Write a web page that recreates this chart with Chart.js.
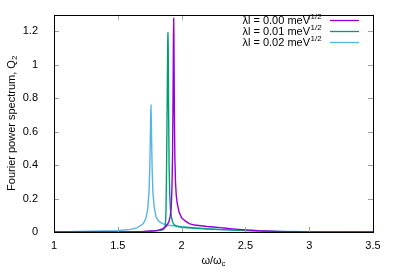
<!DOCTYPE html>
<html>
<head>
<meta charset="utf-8">
<script src="https://cdn.jsdelivr.net/npm/chart.js@4"></script>
<style>
  html, body { margin: 0; padding: 0; background: #fff; }
  #wrap { width: 399px; height: 279px; }
</style>
</head>
<body>
<div id="wrap"><canvas id="chart" width="399" height="279"></canvas></div>
<script>
// Fourier power spectrum for three lambda values

const xTicks = [1, 1.5, 2, 2.5, 3, 3.5];
const yTicks = [0, 0.2, 0.4, 0.6, 0.8, 1, 1.2];
const seriesLabels = ['λl = 0.00 meV', 'λl = 0.01 meV', 'λl = 0.02 meV'];
const seriesColors = ['#9400d3', '#009e73', '#56b4e9'];

const purpleX = [1.0, 1.5, 1.7, 1.8, 1.85, 1.88, 1.9, 1.91, 1.918, 1.924, 1.929, 1.933, 1.936, 1.938, 1.940, 1.943, 1.947, 1.952, 1.958, 1.966, 1.98, 2.0, 2.03, 2.06, 2.1, 2.2, 2.3, 2.4, 2.5, 2.6, 2.7, 2.8, 3.0, 3.5];
const purpleY = [0, 0.001, 0.004, 0.008, 0.018, 0.035, 0.06, 0.09, 0.14, 0.25, 0.45, 0.8, 1.15, 1.278, 1.15, 0.75, 0.45, 0.3, 0.22, 0.17, 0.12, 0.085, 0.065, 0.05, 0.042, 0.033, 0.026, 0.019, 0.013, 0.008, 0.005, 0.002, 0.001, 0];

const greenX = [1.0, 1.6, 1.75, 1.82, 1.85, 1.865, 1.872, 1.877, 1.881, 1.885, 1.889, 1.891, 1.893, 1.895, 1.898, 1.902, 1.907, 1.913, 1.92, 1.93, 1.94, 1.96, 2.0, 2.1, 2.2, 2.3, 2.4, 2.5, 2.6, 2.7, 2.8, 3.0, 3.5];
const greenY = [0, 0.001, 0.004, 0.008, 0.013, 0.02, 0.04, 0.1, 0.3, 0.6, 0.95, 1.12, 1.195, 1.1, 0.75, 0.4, 0.22, 0.13, 0.09, 0.06, 0.045, 0.035, 0.028, 0.022, 0.018, 0.014, 0.011, 0.008, 0.005, 0.003, 0.002, 0.001, 0];

const blueX = [1.0, 1.2, 1.4, 1.5, 1.6, 1.65, 1.7, 1.72, 1.735, 1.745, 1.751, 1.755, 1.758, 1.760, 1.762, 1.765, 1.769, 1.775, 1.785, 1.8, 1.82, 1.85, 1.9, 2.0, 2.1, 2.2, 2.3, 2.5, 2.7, 3.0, 3.5];
const blueY = [0.002, 0.003, 0.006, 0.008, 0.016, 0.025, 0.05, 0.08, 0.14, 0.25, 0.4, 0.56, 0.7, 0.76, 0.7, 0.55, 0.38, 0.24, 0.15, 0.09, 0.065, 0.05, 0.04, 0.032, 0.026, 0.02, 0.016, 0.01, 0.005, 0.002, 0.001];

const FONT = 'Liberation Sans, Arial, sans-serif';

function toPoints(xs, ys) {
    return xs.map((x, i) => ({ x, y: ys[i] }));
}

function fmt(v) {
    return String(Number(v.toFixed(2)));
}

// draws frame, inward mirror ticks, axis titles and the legend (gnuplot style)
const gnuplotDecor = {
    id: 'gnuplotDecor',
    afterDraw(chart) {
        const ctx = chart.ctx;
        const area = chart.chartArea;
        const xs = chart.scales.x;
        const ys = chart.scales.y;
        const tick = 5;

        ctx.save();
        ctx.lineWidth = 1;
        ctx.strokeStyle = '#a0a0a0';
        ctx.beginPath();
        xTicks.forEach(v => {
            const px = Math.round(xs.getPixelForValue(v)) + 0.5;
            ctx.moveTo(px, area.bottom); ctx.lineTo(px, area.bottom - tick);
            ctx.moveTo(px, area.top); ctx.lineTo(px, area.top + tick);
        });
        yTicks.forEach(v => {
            const py = Math.round(ys.getPixelForValue(v)) + 0.5;
            ctx.moveTo(area.left, py); ctx.lineTo(area.left + tick, py);
            ctx.moveTo(area.right, py); ctx.lineTo(area.right - tick, py);
        });
        ctx.stroke();

        ctx.strokeStyle = '#000';
        ctx.lineWidth = 1;
        ctx.strokeRect(Math.round(area.left) + 0.5, Math.round(area.top) + 0.5,
            Math.round(area.right - area.left), Math.round(area.bottom - area.top));

        ctx.fillStyle = '#000';
        ctx.textBaseline = 'middle';

        // x axis title: ω/ω_c
        const xMain = 'ω/ω';
        ctx.font = '11px ' + FONT;
        const wMain = ctx.measureText(xMain).width;
        ctx.font = '8px ' + FONT;
        const wSub = ctx.measureText('c').width;
        const cx = (area.left + area.right) / 2;
        const x0 = cx - (wMain + wSub) / 2;
        ctx.textAlign = 'left';
        ctx.font = '11px ' + FONT;
        ctx.fillText(xMain, x0, 261);
        ctx.font = '8px ' + FONT;
        ctx.fillText('c', x0 + wMain, 264);

        // y axis title: Fourier power spectrum, Q_2
        ctx.save();
        ctx.translate(12, (area.top + area.bottom) / 2);
        ctx.rotate(-Math.PI / 2);
        const yMain = 'Fourier power spectrum, Q';
        ctx.font = '11px ' + FONT;
        const wy = ctx.measureText(yMain).width;
        ctx.font = '8px ' + FONT;
        const wy2 = ctx.measureText('2').width;
        const y0 = -(wy + wy2) / 2;
        ctx.font = '11px ' + FONT;
        ctx.fillText(yMain, y0, 0);
        ctx.font = '8px ' + FONT;
        ctx.fillText('2', y0 + wy, 3);
        ctx.restore();

        // legend
        seriesLabels.forEach((label, i) => {
            const ly = 20 + i * 11;
            ctx.textAlign = 'right';
            ctx.font = '11px ' + FONT;
            ctx.fillText(label, 310, ly + 1);
            ctx.textAlign = 'left';
            ctx.font = '8px ' + FONT;
            ctx.fillText('1/2', 310.5, ly - 3);
            ctx.strokeStyle = seriesColors[i];
            ctx.lineWidth = 1.3;
            ctx.beginPath();
            ctx.moveTo(330, ly + 0.5);
            ctx.lineTo(359, ly + 0.5);
            ctx.stroke();
        });
        ctx.restore();
    }
};

const datasets = [
    toPoints(purpleX, purpleY),
    toPoints(greenX, greenY),
    toPoints(blueX, blueY)
].map((data, i) => ({
    label: seriesLabels[i],
    data,
    borderColor: seriesColors[i],
    borderWidth: 1.4,
    pointRadius: 0,
    fill: false,
    // tiny tension so Chart.js skips its per-pixel fast path (which breaks narrow peaks)
    tension: 0.001,
}));

new Chart(document.getElementById('chart'), {
    type: 'line',
    data: { datasets },
    options: {
        responsive: false,
        animation: false,
        devicePixelRatio: 1,
        layout: { padding: { left: 0, top: 11, right: 26, bottom: 0 } },
        plugins: {
            legend: { display: false },
            tooltip: { enabled: false },
        },
        scales: {
            x: {
                type: 'linear',
                min: 1,
                max: 3.5,
                grid: { display: false },
                border: { display: false },
                afterBuildTicks: scale => { scale.ticks = xTicks.map(value => ({ value })); },
                afterFit: scale => { scale.height = 47; },
                ticks: {
                    color: '#000',
                    padding: -1,
                    maxRotation: 0,
                    font: { family: FONT, size: 11 },
                    callback: v => fmt(v),
                },
            },
            y: {
                type: 'linear',
                min: 0,
                max: 1.3,
                grid: { display: false },
                border: { display: false },
                afterBuildTicks: scale => { scale.ticks = yTicks.map(value => ({ value })); },
                afterFit: scale => { scale.width = 54; },
                ticks: {
                    color: '#000',
                    padding: 8,
                    font: { family: FONT, size: 11 },
                    callback: v => fmt(v),
                },
            },
        },
    },
    plugins: [gnuplotDecor],
});
</script>
</body>
</html>
